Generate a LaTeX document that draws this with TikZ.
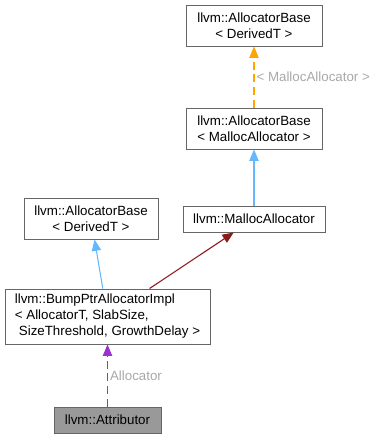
\documentclass[tikz,border=0pt]{standalone}
\usepackage{fontspec}
\setmainfont{Liberation Sans}
\usetikzlibrary{arrows.meta,positioning}
\definecolor{boxline}{HTML}{666666}
\definecolor{mainfill}{HTML}{999999}
\definecolor{inherit}{HTML}{63B8FF}
\definecolor{templ}{HTML}{FFA500}
\definecolor{member}{HTML}{8B1A1A}
\definecolor{uses}{HTML}{9A32CD}
\definecolor{lblgray}{HTML}{A8A8A8}

\begin{document}
\begin{tikzpicture}[
    x = 0.75pt, y = -0.75pt,
    > = {Triangle[length=8.5pt, width=7pt]},
    font = \fontsize{10}{12}\selectfont,
    cls/.style={draw=boxline, line width=0.75pt, fill=white, inner sep=0pt, align=center},
    one/.style={cls, minimum height=19.5pt},
    two/.style={cls, minimum height=30.75pt},
    lbl/.style={font=\fontsize{10}{12}\selectfont, text=lblgray, right=1.5pt, inner sep=0pt},
    isa/.style={draw=inherit, line width=0.8pt},
    tmpl/.style={draw=templ, line width=0.8pt, dash pattern=on 6pt off 3.5pt},
    has/.style={draw=member, line width=0.8pt},
    usedby/.style={draw=uses, line width=0.8pt, dash pattern=on 6pt off 3.5pt}
]
    \useasboundingbox (0,0) rectangle (377,439);

    \node[two, minimum width=102pt] (base) at (254,25.5) {llvm::AllocatorBase\\{<} DerivedT {>}};
    \node[two, minimum width=102pt] (basem) at (254,128.5) {llvm::AllocatorBase\\{<} MallocAllocator {>}};
    \node[one, minimum width=106.5pt] (malloc) at (254,219) {llvm::MallocAllocator};
    \node[two, minimum width=100.5pt] (baseleft) at (91,218.5) {llvm::AllocatorBase\\{<} DerivedT {>}};
    \node[cls, align=left, minimum width=153.75pt, minimum height=41.25pt] (bump) at (107.5,316.5)
        {llvm::BumpPtrAllocatorImpl\\{<} AllocatorT, SlabSize,\\\hspace*{3pt}SizeThreshold, GrowthDelay {>}};
    \node[one, fill=mainfill, minimum width=80.25pt] (attr) at (107.5,420) {llvm::Attributor};

    \path[->]
        (basem) edge[tmpl, templ] node[lbl] {{<} MallocAllocator {>}} (base)
        (malloc) edge[isa, inherit] (basem)
        (bump) edge[isa, inherit] (baseleft)
        (bump) edge[has, member] (malloc)
        (attr) edge[usedby, uses] node[lbl] {Allocator} (bump);
\end{tikzpicture}
\end{document}
